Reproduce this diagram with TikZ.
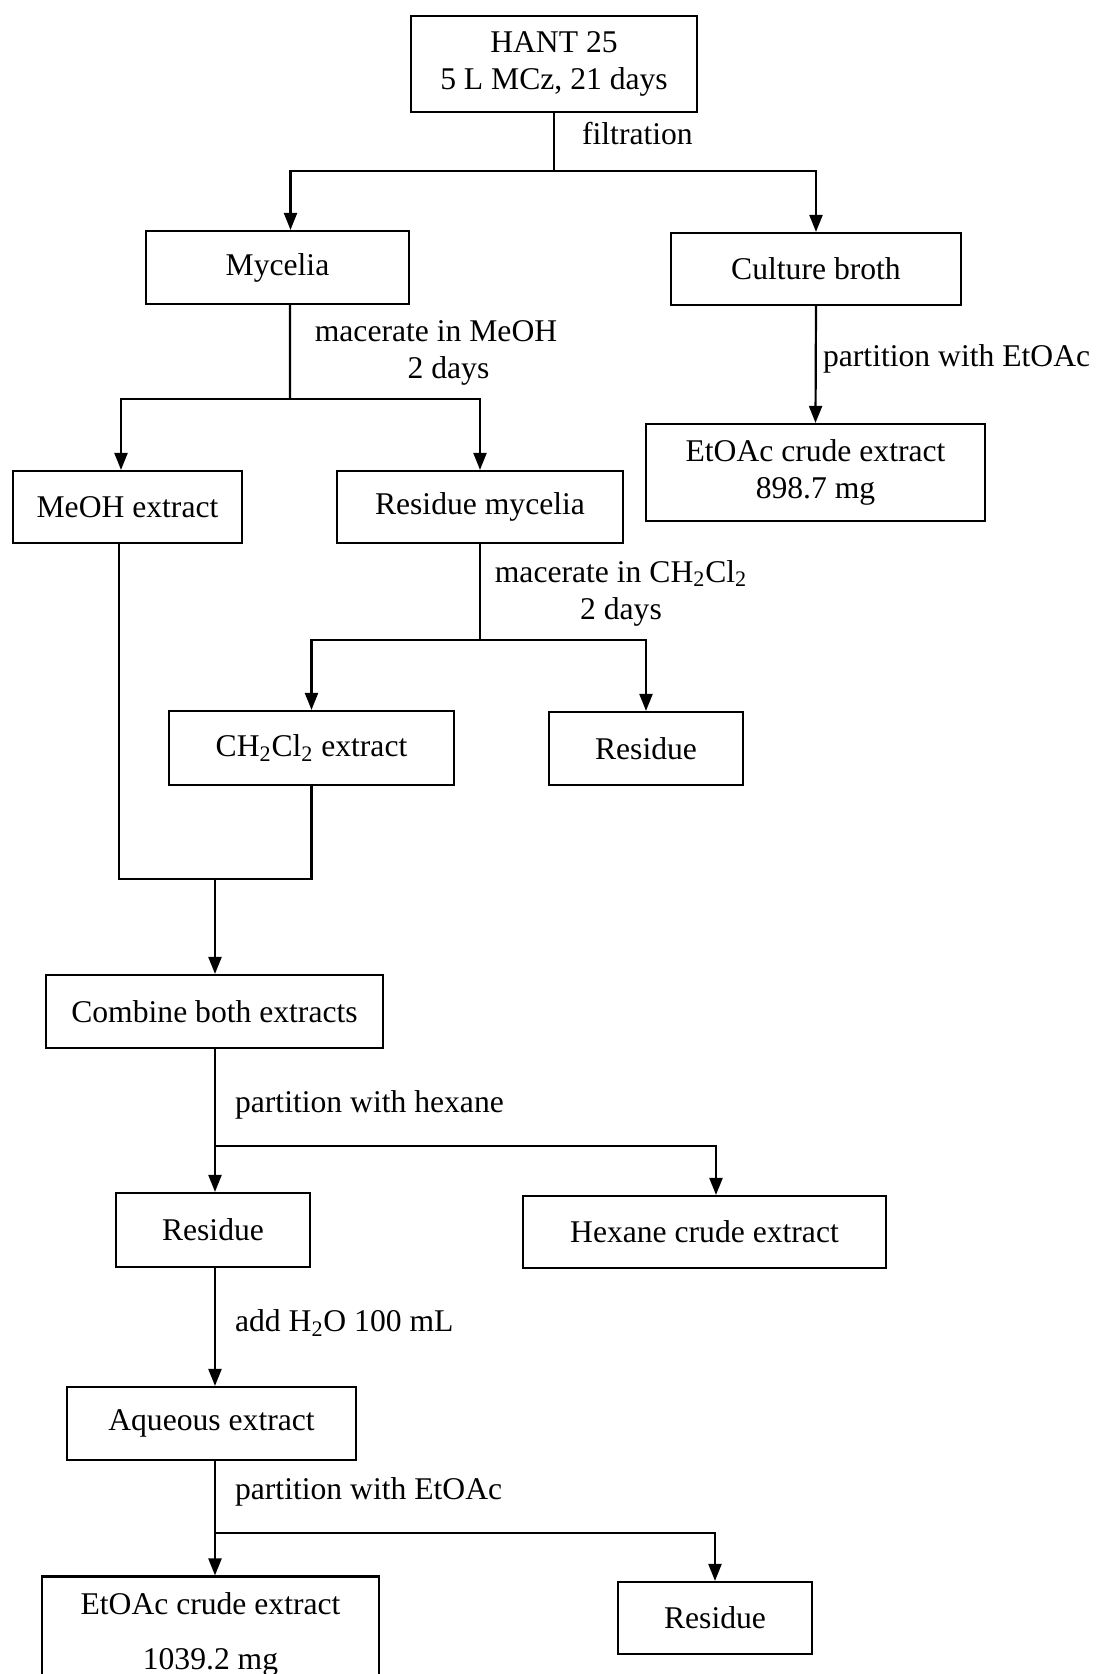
\documentclass[tikz,border=0pt]{standalone}
\usepackage{fontspec}
\setmainfont{Liberation Serif}
\usepackage{tikz}
\usetikzlibrary{arrows.meta, positioning, calc}

\begin{document}
\begin{tikzpicture}[x=0.02cm, y=-0.02cm,
    font=\fontsize{18}{21}\selectfont,
    box/.style={draw, line width=1.25pt, inner sep=0pt, align=center, minimum height=1.46cm},
    arr/.style={-{Triangle[length=0.34cm,width=0.26cm]}},
    every path/.style={line width=1.25pt},
    lbl/.style={anchor=west, inner sep=0pt, align=center}]
    \useasboundingbox (0,0) rectangle (1101,1674);
    \coordinate (spine) at (215,0);

    % Culture
    \node[box, minimum width=5.72cm, minimum height=1.92cm] (hant) at (554,64) {HANT 25\\5 L MCz, 21 days};

    % Filtration
    \node[box, minimum width=5.26cm] (mycelia) at (277.5,267.5) {Mycelia};
    \node[box, minimum width=5.80cm, minimum height=1.44cm] (broth) at (816,269) {Culture broth};
    \coordinate (j1) at (554,171);
    \draw (hant.south) -- (j1);
    \draw[arr] (j1) -| ([xshift=0.26cm]mycelia.north);
    \draw[arr] (j1) -| (broth.north);
    \node[lbl] (lfilt) at (581,134) {filtration};

    % Culture broth
    \node[box, minimum width=6.78cm, minimum height=1.94cm] (etoaca) at (815.5,472.5) {EtOAc crude extract\\898.7 mg};
    \draw[arr] (broth.south) -- (etoaca.north);
    \node[lbl] (lpartb) at (822,359) {partition with EtOAc};

    % Mycelia in MeOH
    \node[box, minimum width=4.58cm, minimum height=1.44cm] (meoh) at (127.5,507) {MeOH extract};
    \node[box, minimum width=5.72cm, minimum height=1.44cm] (resmyc) at (480,507) {Residue mycelia};
    \coordinate (j2) at (290,399);
    \draw ([xshift=0.25cm]mycelia.south) -- (j2);
    \draw[arr] (j2) -| ([xshift=-0.13cm]meoh.north);
    \draw[arr] (j2) -| (resmyc.north);
    \node[anchor=center, align=center] (lmac) at (436,353) {macerate in MeOH\\\hspace*{0.5cm}2 days};

    % Residue mycelia in CH2Cl2
    \node[box, minimum width=5.70cm, minimum height=1.48cm] (chcl) at (311.5,748) {CH\textsubscript{2}Cl\textsubscript{2} extract};
    \node[box, minimum width=3.88cm] (resa) at (646,748.5) {Residue};
    \coordinate (j3) at (480,640);
    \draw (resmyc.south) -- (j3);
    \draw[arr] (j3) -| (chcl.north);
    \draw[arr] (j3) -| (resa.north);
    \node[anchor=center, align=center] (lmacb) at (621,593) {macerate in CH\textsubscript{2}Cl\textsubscript{2}\\2 days};

    % Combine
    \node[box, minimum width=6.74cm] (combine) at (214.5,1011.5) {Combine both extracts};
    \coordinate (j4) at (215,879);
    \draw ([xshift=-0.17cm]meoh.south) |- (chcl.south |- j4) -- (chcl.south);
    \draw[arr] (j4) -- (spine |- combine.north);

    % Hexane partition
    \node[box, minimum width=3.88cm, minimum height=1.48cm] (resb) at (213,1230) {Residue};
    \node[box, minimum width=7.26cm, minimum height=1.44cm] (hexane) at (704.5,1232) {Hexane crude extract};
    \coordinate (j5) at (215,1146);
    \draw (spine |- combine.south) -- (j5);
    \draw[arr] (j5) -- (spine |- resb.north);
    \draw[arr] (j5) -| ([xshift=0.23cm]hexane.north);
    \node[lbl] (lparth) at (234,1105) {partition with hexane};

    % Water
    \node[box, minimum width=5.78cm] (aqueous) at (211.5,1423.5) {Aqueous extract};
    \draw[arr] (spine |- resb.south) -- (spine |- aqueous.north);
    \node[lbl] (lwater) at (234,1323) {add H\textsubscript{2}O 100 mL};

    % EtOAc partition
    \node[box, minimum width=6.74cm, minimum height=2.3cm] (etoacb) at (210.5,1634) {EtOAc crude extract\\[0.36cm]1039.2 mg};
    \node[box, minimum width=3.88cm, minimum height=1.44cm] (resc) at (715,1618) {Residue};
    \coordinate (j6) at (215,1533);
    \draw (spine |- aqueous.south) -- (j6);
    \draw[arr] (j6) -- (spine |- etoacb.north);
    \draw[arr] (j6) -| (resc.north);
    \node[lbl] (lparte) at (234,1492) {partition with EtOAc};
\end{tikzpicture}
\end{document}
